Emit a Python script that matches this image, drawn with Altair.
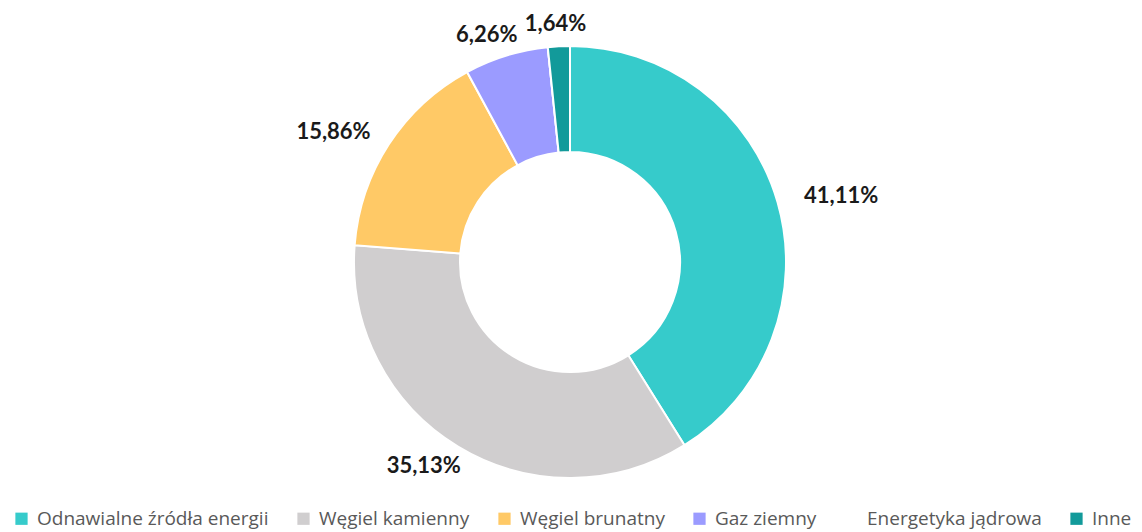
import altair as alt
import pandas as pd

categories = ["Odnawialne źródła energii", "Węgiel kamienny", "Węgiel brunatny",
              "Gaz ziemny", "Energetyka jądrowa", "Inne"]
values = [41.11, 35.13, 15.86, 6.26, 0.0, 1.64]
labels = ["41,11%", "35,13%", "15,86%", "6,26%", "", "1,64%"]
colors = ["#36CBCB", "#D0CECF", "#FFC966", "#9B9BFF", "#FFFFFF", "#129A9A"]

CX, CY = 570, 262
RX, RY = 282, 238

df = pd.DataFrame({
    "kat": categories,
    "val": values,
    "lab": labels,
    "idx": list(range(len(categories))),
})

arcs = alt.Chart(df).mark_arc(innerRadius=110, outerRadius=216, stroke="white", strokeWidth=2).encode(
    theta=alt.Theta("val:Q", stack=True),
    order=alt.Order("idx:Q"),
    x=alt.value(CX),
    y=alt.value(CY),
    color=alt.Color(
        "kat:N",
        scale=alt.Scale(domain=categories, range=colors),
        sort=categories,
        legend=alt.Legend(
            title=None,
            orient="none",
            legendX=12,
            legendY=509,
            direction="horizontal",
            columns=6,
            symbolType="square",
            symbolSize=150,
            symbolStrokeWidth=0,
            labelFont="Open Sans",
            labelFontSize=19,
            labelColor="#595959",
            labelOffset=6,
            columnPadding=25,
            labelLimit=400,
        ),
    ),
)

text = alt.Chart(df).transform_joinaggregate(
    total="sum(val)"
).transform_window(
    cum="sum(val)", sort=[alt.SortField("idx")], frame=[None, 0]
).transform_calculate(
    ang="(datum.cum - datum.val / 2) / datum.total * 2 * PI",
    lx=f"{CX} + {RX} * sin(datum.ang)",
    ly=f"{CY} - {RY} * cos(datum.ang)",
).transform_filter(
    "datum.val > 0"
).mark_text(font="Lato", fontSize=22, fontWeight="bold", color="#1a1a1a").encode(
    x=alt.X("lx:Q", scale=None),
    y=alt.Y("ly:Q", scale=None),
    text="lab:N",
)

chart = (arcs + text).properties(
    width=1142, height=532, padding=0, autosize=alt.AutoSizeParams(type="none")
).configure_view(stroke=None)

chart.save("out.html", embed_options={"renderer": "svg", "actions": False})
